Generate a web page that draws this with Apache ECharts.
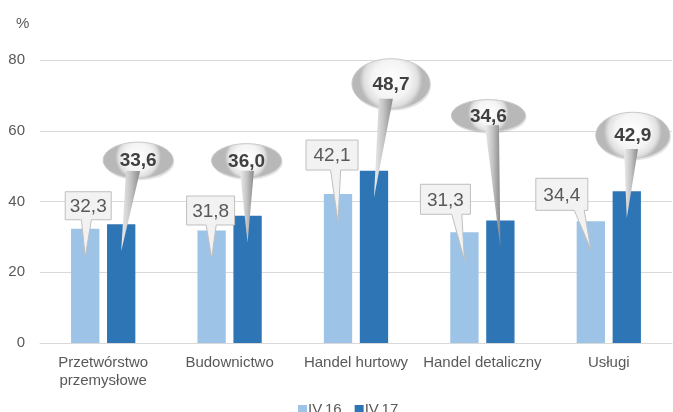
<!DOCTYPE html>
<html><head><meta charset="utf-8">
<script src="https://cdn.jsdelivr.net/npm/echarts@6/dist/echarts.min.js"></script>
<style>html,body{margin:0;padding:0;background:#fff}#c{width:673px;height:412px}</style>
</head><body><div id="c"></div>
<script>
var categories = ['Przetwórstwo\nprzemysłowe', 'Budownictwo', 'Handel hurtowy', 'Handel detaliczny', 'Usługi'];
var seriesNames = ['IV.16', 'IV.17'];
var iv16 = [32.3, 31.8, 42.1, 31.3, 34.4];
var iv17 = [33.6, 36.0, 48.7, 34.6, 42.9];
var yTicks = [0, 20, 40, 60, 80];

// callout layout (pixel offsets from pointer tip): [dx, dy, width, height]
var boxLayout = [[3, -51, 46, 28], [-1, -48, 48, 29], [-6, -67, 52, 30], [-19, -61, 50, 30], [-29, -55, 52, 32]];
// [dx, dy, rx, ry]
var ellLayout = [[17, -91, 35, 18], [-1, -82, 35, 17], [17, -114, 39, 25], [-12, -132, 37, 16], [6, -83, 37, 23]];

var BARW = 0.224, GAP = 0.27;
var OFF = BARW * (1 + GAP) / 2;
function fmt(v) { return v.toFixed(1).replace('.', ','); }

function lightCallout(params, api) {
  var i = api.value(0), v = api.value(1);
  var p = api.coord([i, v]);
  var band = api.size([1, 0])[0];
  var tx = p[0] - OFF * band, ty = p[1] + 28;
  var L = boxLayout[i];
  var cx = tx + L[0], cy = ty + L[1], w = L[2], h = L[3];
  var x0 = cx - w / 2, x1 = cx + w / 2, y0 = cy - h / 2, y1 = cy + h / 2;
  var m = cx + 0.6 * (tx - cx);
  m = Math.max(x0 + 8, Math.min(x1 - 8, m));
  var pts = [[x0, y0], [x1, y0], [x1, y1], [m + 5, y1], [tx, ty], [m - 5, y1], [x0, y1]];
  return {
    type: 'group',
    children: [
      { type: 'polygon', shape: { points: pts }, style: { fill: '#f2f2f2', stroke: '#bfbfbf', lineWidth: 1 } },
      { type: 'text', style: { text: fmt(v), x: cx, y: cy + 1, align: 'center', verticalAlign: 'middle',
        fill: '#595959', font: '19px "Liberation Sans", Arial, sans-serif' } }
    ]
  };
}

function darkCallout(params, api) {
  var i = api.value(0), v = api.value(1);
  var p = api.coord([i, v]);
  var band = api.size([1, 0])[0];
  var tx = p[0] + OFF * band, ty = p[1] + 27;
  var L = ellLayout[i];
  var cx = tx + L[0], cy = ty + L[1], rx = L[2], ry = L[3];
  var bx = cx + 0.3 * (tx - cx), by = cy + ry * 0.6;
  return {
    type: 'group',
    children: [
      { type: 'ellipse', shape: { cx: cx + 1, cy: cy + 2, rx: rx, ry: ry }, style: { fill: 'rgba(0,0,0,0.10)' } },
      { type: 'ellipse', shape: { cx: cx, cy: cy, rx: rx, ry: ry },
        style: { fill: new echarts.graphic.RadialGradient(0.5, 0.42, 0.62, [
          { offset: 0, color: '#ffffff' }, { offset: 0.6, color: '#f4f4f4' }, { offset: 0.85, color: '#e0e0e0' }, { offset: 1, color: '#b8b8b8' }]),
          stroke: '#c8c8c8', lineWidth: 1 } },
      { type: 'polygon', shape: { points: [[bx - 7, by], [bx + 7, by], [tx, ty]] },
        style: { fill: new echarts.graphic.LinearGradient(0, 0, 1, 0, [
          { offset: 0, color: '#ececec' }, { offset: 0.5, color: '#c4c4c4' }, { offset: 1, color: '#8a8a8a' }]) } },
      { type: 'text', style: { text: fmt(v), x: cx, y: cy + 1, align: 'center', verticalAlign: 'middle',
        fill: '#404040', font: 'bold 19px "Liberation Sans", Arial, sans-serif' } }
    ]
  };
}

var chart = echarts.init(document.getElementById('c'), null, { renderer: 'canvas' });
chart.setOption({
  animation: false,
  textStyle: { fontFamily: '"Liberation Sans", Arial, sans-serif' },
  title: { text: '%', left: 11, top: 11, textStyle: { fontSize: 15, fontWeight: 'normal', color: '#595959' } },
  grid: { left: 40, right: 1, top: 60, bottom: 69 },
  legend: {
    data: seriesNames, left: 293, top: 397, itemWidth: 9, itemHeight: 9, itemGap: 13, icon: 'rect',
    textStyle: { fontSize: 15, color: '#595959', padding: [0, 0, 0, -4] }
  },
  xAxis: {
    type: 'category', data: categories,
    axisLine: { lineStyle: { color: '#d9d9d9', width: 1 } },
    axisTick: { show: false },
    axisLabel: { color: '#595959', fontSize: 15, lineHeight: 18, margin: 11, interval: 0 }
  },
  yAxis: {
    type: 'value', min: yTicks[0], max: yTicks[yTicks.length - 1], interval: 20,
    axisLine: { show: false }, axisTick: { show: false },
    axisLabel: { color: '#595959', fontSize: 15, margin: 15 },
    splitLine: { lineStyle: { color: '#d9d9d9', width: 1 } }
  },
  series: [
    { name: seriesNames[0], type: 'bar', data: iv16, barWidth: (BARW * 100) + '%', barGap: (GAP * 100) + '%',
      itemStyle: { color: '#9dc3e6' } },
    { name: seriesNames[1], type: 'bar', data: iv17, barWidth: (BARW * 100) + '%', barGap: (GAP * 100) + '%',
      itemStyle: { color: '#2e75b6' } },
    { type: 'custom', renderItem: lightCallout, data: iv16.map(function (v, i) { return [i, v]; }),
      clip: false, silent: true, z: 10, encode: { x: 0, y: 1 } },
    { type: 'custom', renderItem: darkCallout, data: iv17.map(function (v, i) { return [i, v]; }),
      clip: false, silent: true, z: 11, encode: { x: 0, y: 1 } }
  ]
});
</script></body></html>
